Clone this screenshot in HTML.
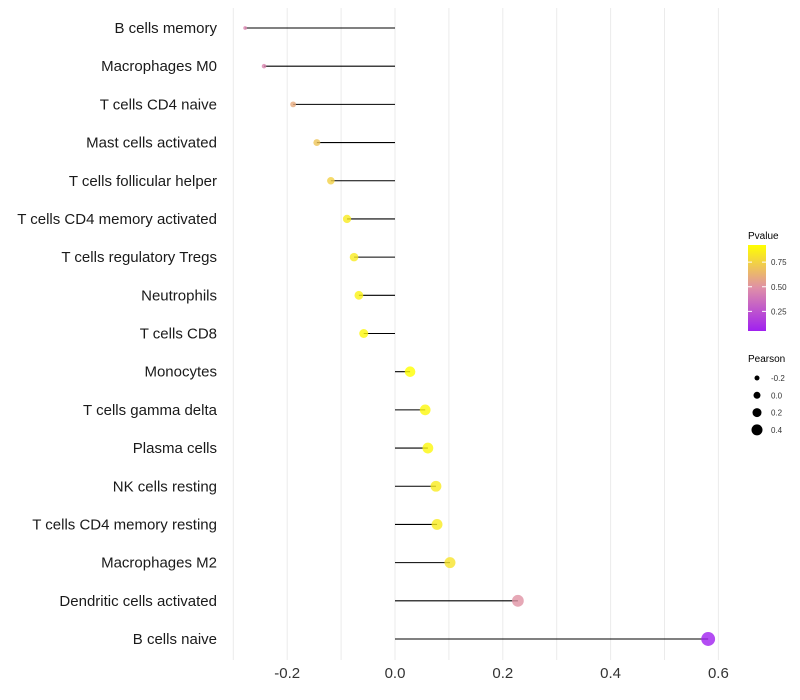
<!DOCTYPE html>
<html><head><meta charset="utf-8"><style>
body{margin:0;background:#fff;}
svg{display:block;font-family:"Liberation Sans",sans-serif;}
</style></head><body>
<svg id="chart" width="800" height="700">
<defs><linearGradient id="pg" x1="0" y1="1" x2="0" y2="0">
<stop offset="0" stop-color="#a020f0"/><stop offset="0.5" stop-color="#df8fa8"/><stop offset="1" stop-color="#ffff00"/>
</linearGradient></defs>
<g id="grid"></g><g id="marks"></g><g id="labels"></g><g id="legend"></g>
</svg>
<script>
const categories=["B cells memory","Macrophages M0","T cells CD4 naive","Mast cells activated","T cells follicular helper","T cells CD4 memory activated","T cells regulatory  Tregs","Neutrophils","T cells CD8","Monocytes","T cells gamma delta","Plasma cells","NK cells resting","T cells CD4 memory resting","Macrophages M2","Dendritic cells activated","B cells naive"];
const pearson=[-0.278,-0.243,-0.189,-0.145,-0.119,-0.089,-0.076,-0.067,-0.058,0.028,0.056,0.061,0.076,0.078,0.102,0.228,0.581];
const pvalue=[0.45,0.45,0.6,0.7,0.75,0.85,0.85,0.88,0.9,0.95,0.9,0.9,0.85,0.85,0.82,0.5,0.05];
const xTicks=[-0.2,0,0.2,0.4,0.6];
const xTickLabels=["-0.2","0.0","0.2","0.4","0.6"];
const legendP=[0.75,0.5,0.25];
const legendPLabels=["0.75","0.50","0.25"];
const legendSize=[-0.2,0,0.2,0.4];
const legendSizeLabels=["-0.2","0.0","0.2","0.4"];

const NS="http://www.w3.org/2000/svg";
const x=v=>395+v*539;
const y=i=>28+i*(611/16);
const r=v=>Math.max(1.5,v<0?5.2+12*v:5.2+3*v);
const lr=v=>3.5+5*v;
function lerp(a,b,t){return a.map((c,k)=>Math.round(c+(b[k]-c)*t));}
function col(p){const t=Math.min(1,Math.max(0,(p-0.05)/0.88));
 const A=[160,32,240],B=[223,143,168],C=[255,255,0];
 const c=t<0.5?lerp(A,B,t/0.5):lerp(B,C,(t-0.5)/0.5);return `rgb(${c.join(",")})`;}
function mk(t,a,p){const e=document.createElementNS(NS,t);for(const k in a)e.setAttribute(k,a[k]);if(p)p.appendChild(e);return e;}
const grid=document.getElementById('grid'),marks=document.getElementById('marks'),labels=document.getElementById('labels'),leg=document.getElementById('legend');
for(let v=-0.3;v<=0.651;v+=0.1){
 const g=mk('line',{x1:x(v),x2:x(v),y1:8,y2:660,stroke:'#ebebeb','stroke-width':1},grid);
 
 
}
xTicks.forEach((v,i)=>{
 const t=mk('text',{x:x(v),y:678,'font-size':15,'text-anchor':'middle',fill:'#333'},labels);
 t.textContent=xTickLabels[i];
 
 
});
categories.forEach((c,i)=>{
 const t=mk('text',{x:217,y:y(i)+5,'font-size':15,'text-anchor':'end',fill:'#1a1a1a','xml:space':'preserve'},labels);
 t.textContent=c;
 
 
 const l=mk('line',{x1:x(0),x2:x(pearson[i]),y1:y(i),y2:y(i),stroke:'#000','stroke-width':1.1},marks);
 
 
 const d=mk('circle',{cx:x(pearson[i]),cy:y(i),r:r(pearson[i]),fill:col(pvalue[i]),'fill-opacity':0.8},marks);
 
 
});
let t=mk('text',{x:748,y:239,'font-size':10,fill:'#000'},leg);t.textContent='Pvalue';


const bar=mk('rect',{x:748,y:245,width:18,height:86,fill:'url(#pg)'},leg);


const py=p=>336-p*98.5;
legendP.forEach((p,i)=>{
 mk('line',{x1:748,x2:752,y1:py(p),y2:py(p),stroke:'#fff'},leg);
 mk('line',{x1:762,x2:766,y1:py(p),y2:py(p),stroke:'#fff'},leg);
 const s=mk('text',{x:771,y:py(p)+3,'font-size':8,fill:'#333'},leg);s.textContent=legendPLabels[i];
 
 
});
t=mk('text',{x:748,y:362,'font-size':10,fill:'#000'},leg);t.textContent='Pearson';


legendSize.forEach((v,i)=>{
 const cy=378+i*17.3;
 const c=mk('circle',{cx:757,cy:cy,r:lr(v),fill:'#000'},leg);
 
 
 const s=mk('text',{x:771,y:cy+3,'font-size':8,fill:'#333'},leg);s.textContent=legendSizeLabels[i];
 
 
});
</script>
</body></html>
